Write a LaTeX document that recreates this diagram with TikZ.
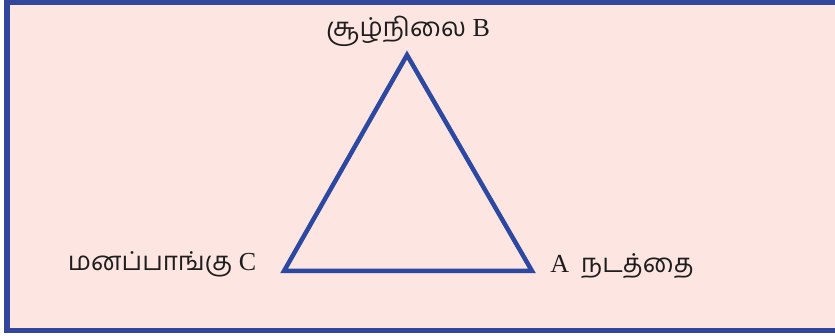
\documentclass[tikz,border=0pt]{standalone}
\usepackage{fontspec}
\setmainfont{Liberation Serif}
\newfontfamily\tamilfont[Script=Tamil]{Hind Madurai}
\usetikzlibrary{positioning}
\definecolor{cFrame}{RGB}{50,  70, 158}
\definecolor{cTri}  {RGB}{45,  72, 160}
\definecolor{cBack} {RGB}{253, 230, 225}
\definecolor{cText} {RGB}{30,  30,  30}
\tikzset{
  frameB/.style = {draw=cFrame, line width=5.5pt, fill=cBack},
  triB/.style   = {draw=cTri, line width=4.5pt, line join=miter},
  lab/.style    = {font=\fontsize{26}{29}\selectfont, text=cText, inner sep=0pt},
}

\begin{document}
\begin{tikzpicture}[x=1pt, y=-1pt]

%% Layout (pixels): frame 7..840 x 2.5..330.5
\useasboundingbox (0,0) rectangle (835,336);
\fill[white] (0,0) rectangle (835,336);

%% ─── frame ───────────────────────────────────────────────────────
\begin{scope}
  \clip (0,0) rectangle (835,336);
  \draw[frameB] (7,2.5) rectangle (845,330.5);
\end{scope}

%% ─── triangle ────────────────────────────────────────────────────
\coordinate (vB) at (407,55);
\coordinate (vC) at (284,271);
\coordinate (vA) at (532,271);

\draw[triB] (vB)--(vA)--(vC)--cycle;

%% ─── labels ──────────────────────────────────────────────────────
\node[lab] (lB) at (408,31) {{\tamilfont சூழ்நிலை} B};
\node[lab] (lC) at (162,264) {{\tamilfont மனப்பாங்கு} C};
\node[lab] (lA) at (622,266) {A\hspace{12pt}{\tamilfont நடத்தை}};

\end{tikzpicture}
\end{document}
